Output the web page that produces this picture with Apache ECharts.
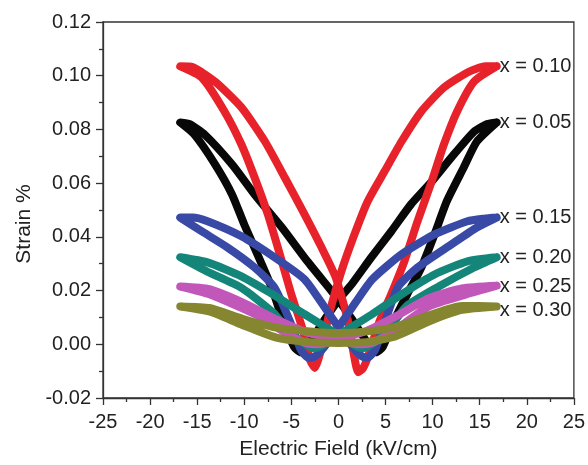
<!DOCTYPE html>
<html>
<head>
<meta charset="utf-8">
<script src="https://cdn.jsdelivr.net/npm/echarts@6/dist/echarts.min.js"></script>
<style>
  html, body { margin: 0; padding: 0; background: #fff; }
  #chart { width: 588px; height: 465px; }
</style>
</head>
<body>
<div id="chart"></div>
<script>
// strain loops, [field kV/cm, strain %], traced right tip -> left tip -> right tip
const loop005 = [
  [16.8, 0.0826], [15.8, 0.082], [14.4, 0.0792], [12, 0.0696], [9.9, 0.0606], [7.7, 0.0521], [5.6, 0.042],
  [3.5, 0.0324], [1.4, 0.0223], [0, 0.0165], [-1.5, 0.009], [-3, 0.001], [-4, -0.003], [-4.7, -0.001],
  [-5.8, 0.008], [-7.1, 0.0212], [-8.6, 0.0335], [-10, 0.0446], [-11.3, 0.0558], [-13.1, 0.067],
  [-15.3, 0.0781], [-16.8, 0.0826],
  [-15.8, 0.082], [-14.2, 0.0781], [-11.3, 0.067], [-8.9, 0.0558], [-6, 0.0435], [-3.3, 0.0309],
  [-0.7, 0.0197], [0, 0.0165], [1.5, 0.009], [3, 0.001], [4, -0.003], [4.7, -0.001], [5.8, 0.008],
  [7.3, 0.0186], [8.8, 0.0286], [10.2, 0.0409], [11.5, 0.0532], [13.3, 0.0658], [14.7, 0.0755],
  [16.8, 0.0826]
]
const loop010 = [
  [16.8, 0.1035], [15.6, 0.1035], [13.7, 0.1012], [11.2, 0.0956], [8.8, 0.0867], [6.7, 0.0755], [4.9, 0.0644],
  [3.1, 0.0532], [1.7, 0.0409], [0.3, 0.027], [-1, 0.011], [-2, -0.004], [-2.5, -0.0088], [-3, -0.006],
  [-3.8, 0.0056], [-5, 0.0186], [-6.1, 0.032], [-7.5, 0.0484], [-8.9, 0.0621], [-10.3, 0.0744],
  [-12.1, 0.0867], [-14.5, 0.0993], [-16.8, 0.1035],
  [-15.5, 0.1032], [-13.1, 0.0978], [-10.3, 0.0882], [-7.8, 0.0755], [-5.7, 0.0621],
  [-3.6, 0.0484], [-1.8, 0.0361], [-0.3, 0.025], [1, 0.009], [1.7, -0.005], [2.1, -0.0104], [2.6, -0.009],
  [3.2, -0.004], [4.3, 0.008], [5.6, 0.0186], [7, 0.0309], [8.4, 0.0458], [9.9, 0.0606], [11.2, 0.0744],
  [12.6, 0.0867], [14.4, 0.0978], [16.8, 0.1035]
]
const loop015 = [
  [16.8, 0.0472], [15.5, 0.0468], [13.7, 0.0458], [10.2, 0.0409], [6.7, 0.0335], [3.6, 0.0242], [1.8, 0.0155],
  [0, 0.0063], [-1.5, -0.001], [-2.5, -0.0045], [-3.2, -0.005], [-4, -0.002], [-5.2, 0.009], [-6.8, 0.0212],
  [-8.9, 0.0286], [-11.8, 0.0361], [-14.5, 0.042], [-16.8, 0.0472],
  [-15.5, 0.0472], [-13.9, 0.0458], [-10.3, 0.0402], [-6.8, 0.0324], [-3.6, 0.0242], [-1.8, 0.0155],
  [0, 0.0063], [1.5, -0.001], [2.5, -0.0045], [3.1, -0.005], [3.9, -0.002], [5, 0.009], [6.3, 0.0212],
  [8.4, 0.0286], [12, 0.0372], [14.7, 0.0435], [16.8, 0.0472]
]
const loop020 = [
  [16.8, 0.0324], [13.7, 0.0309], [10.2, 0.026], [6.7, 0.0186], [3.5, 0.011], [0, 0.0035],
  [-1.5, 0.000], [-2.5, -0.0015], [-3.5, 0.000], [-5, 0.004], [-7, 0.012], [-10.3, 0.021], [-13.9, 0.027],
  [-16.8, 0.0324],
  [-13.9, 0.0305], [-10.3, 0.0253], [-7.5, 0.0197], [-3.5, 0.011], [0, 0.0035],
  [1.5, 0.000], [2.5, -0.0015], [3.5, 0.000], [5, 0.004], [7.2, 0.0141], [10.7, 0.0216], [14.4, 0.0286],
  [16.8, 0.0324]
]
const loop025 = [
  [16.8, 0.0218], [13.1, 0.0208], [9.6, 0.0172], [6.1, 0.0104], [3, 0.005], [0, 0.002],
  [-2, 0.000], [-3.5, 0.0005], [-5.5, 0.004], [-8.4, 0.0104], [-13.7, 0.0186], [-16.8, 0.0215],
  [-13.7, 0.0205], [-10.2, 0.0156], [-6.6, 0.0093], [-3, 0.004], [0, 0.002],
  [2, 0.000], [3.5, 0.0005], [5.5, 0.004], [9.6, 0.0141], [13.5, 0.0185], [16.8, 0.0218]
]
const loop030 = [
  [16.8, 0.0141], [13.1, 0.0143], [9.6, 0.0108], [6.1, 0.0065], [3, 0.0048], [0, 0.0042],
  [-3, 0.0048], [-6.6, 0.0062], [-10.2, 0.0095], [-13.7, 0.0135], [-16.8, 0.0141],
  [-13.7, 0.0122], [-10.2, 0.0072], [-6.6, 0.0025], [-3, 0.0008], [0, 0.0005],
  [3, 0.0008], [6.1, 0.003], [9.6, 0.0085], [13.1, 0.0128], [16.8, 0.0141]
]

const seriesNames = ['x = 0.05', 'x = 0.10', 'x = 0.15', 'x = 0.20', 'x = 0.25', 'x = 0.30']
const seriesData = [loop005, loop010, loop015, loop020, loop025, loop030]
const seriesColors = ['#080808', '#e8222a', '#3949a6', '#138579', '#c157b9', '#85862f']
const labelOffsets = [[0, 0], [0, 0], [0, 0], [0, 0], [0, 1], [0, 4]]
const xTicks = [-25, 25, 5]
const yTicks = [-0.02, 0.12, 0.02]

const font = 'Liberation Sans, Arial, sans-serif'
const chart = echarts.init(document.getElementById('chart'))

const tickStyle = { color: '#333', width: 1.3 }

const option = {
  animation: false,
  backgroundColor: '#fff',
  grid: {
    left: 103,
    right: 13,
    top: 22,
    bottom: 67,
    show: true,
    borderColor: '#333',
    borderWidth: 1.3
  },
  xAxis: {
    type: 'value',
    min: xTicks[0],
    max: xTicks[1],
    interval: xTicks[2],
    name: 'Electric Field (kV/cm)',
    nameLocation: 'middle',
    nameGap: 41,
    nameTextStyle: { fontFamily: font, fontSize: 21, color: '#222' },
    axisLine: { onZero: false, lineStyle: tickStyle },
    axisTick: { inside: false, length: 7, lineStyle: tickStyle },
    minorTick: { show: true, splitNumber: 2, length: 4, lineStyle: tickStyle },
    axisLabel: { fontFamily: font, fontSize: 20, color: '#222', margin: 14 },
    splitLine: { show: false }
  },
  yAxis: {
    type: 'value',
    min: yTicks[0],
    max: yTicks[1],
    interval: yTicks[2],
    name: 'Strain %',
    nameLocation: 'middle',
    nameGap: 63,
    nameTextStyle: { fontFamily: font, fontSize: 21, color: '#222', padding: [0, 28, 0, 0] },
    axisLine: { show: true, onZero: false, lineStyle: tickStyle },
    axisTick: { show: true, inside: false, length: 7, lineStyle: tickStyle },
    minorTick: { show: true, splitNumber: 2, length: 4, lineStyle: tickStyle },
    axisLabel: {
      fontFamily: font, fontSize: 20, color: '#222', margin: 12,
      formatter: v => v.toFixed(2)
    },
    splitLine: { show: false }
  },
  series: seriesNames.map((name, i) => ({
    name: name,
    type: 'line',
    data: seriesData[i],
    smooth: 0.2,
    symbol: 'none',
    lineStyle: { color: seriesColors[i], width: 8, cap: 'round', join: 'round' },
    endLabel: {
      show: true,
      formatter: name,
      fontFamily: font,
      fontSize: 20,
      color: '#222',
      distance: 3,
      offset: labelOffsets[i]
    }
  }))
}

chart.setOption(option)
</script>
</body>
</html>
